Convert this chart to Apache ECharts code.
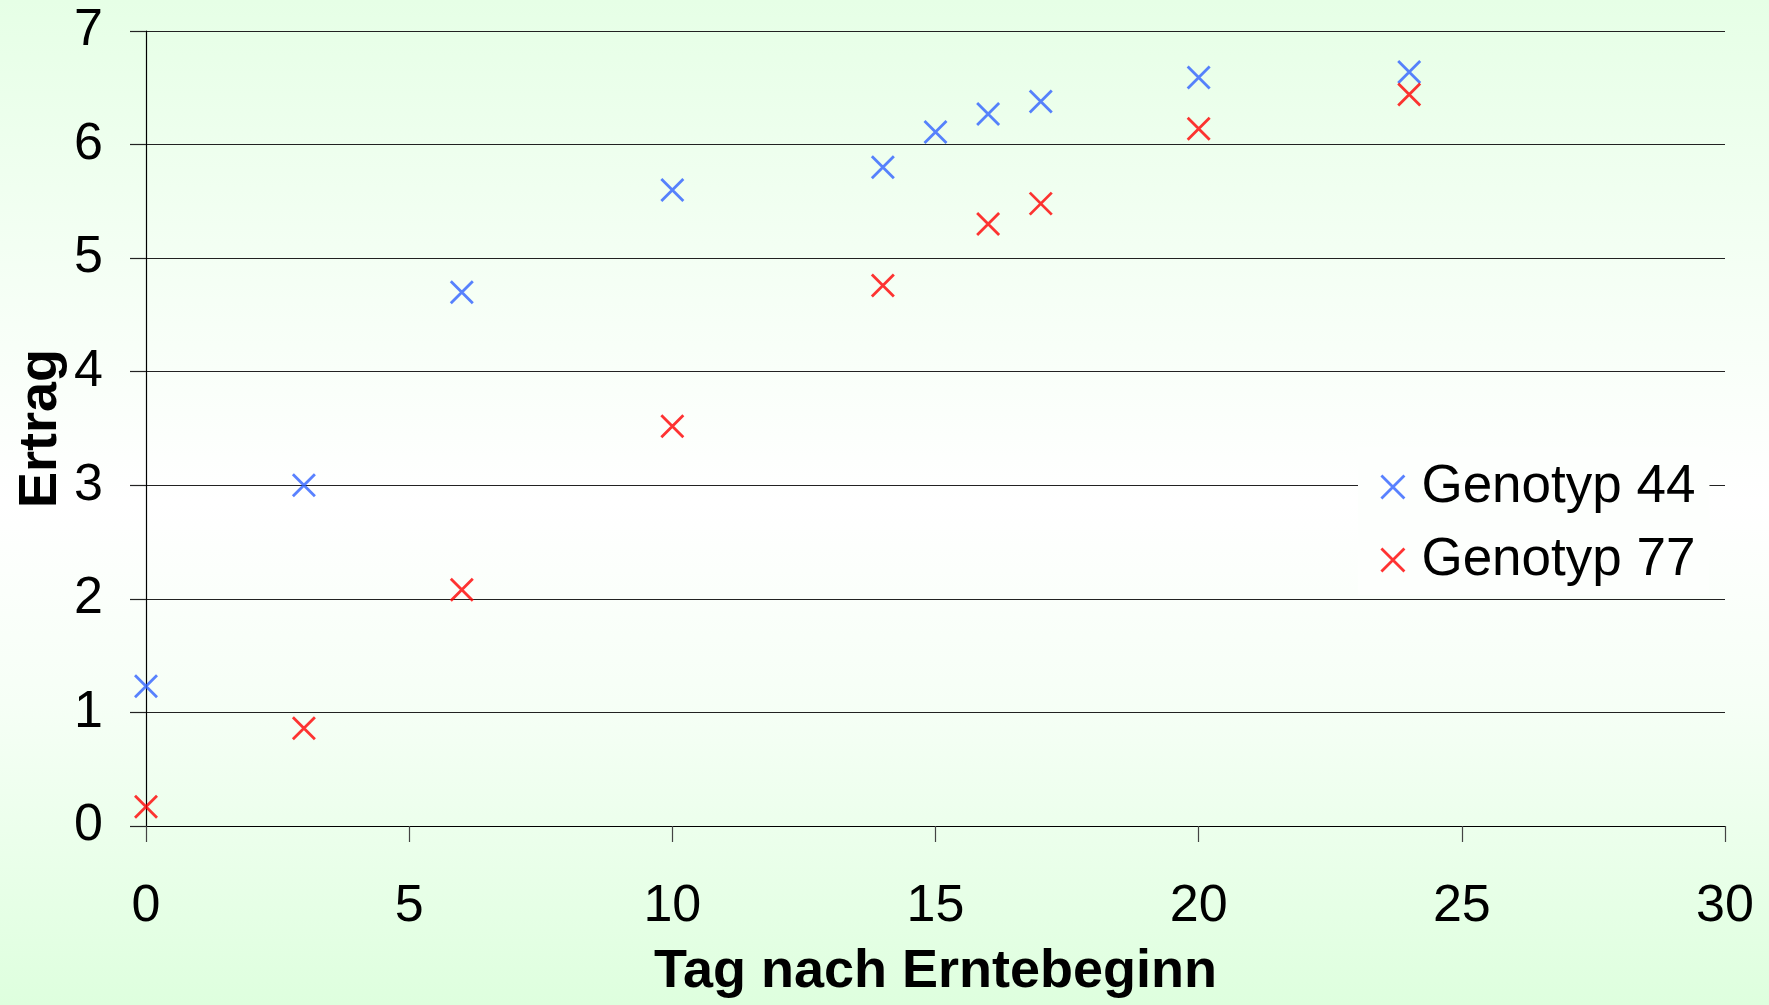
<!DOCTYPE html>
<html>
<head>
<meta charset="utf-8">
<script src="https://cdn.jsdelivr.net/npm/echarts@6/dist/echarts.min.js"></script>
<style>
  html, body { margin: 0; padding: 0; }
  body {
    width: 1769px; height: 1005px; overflow: hidden;
    background: linear-gradient(to bottom, #E6FFE6 0%, #F6FFF6 30%, #FFFFFF 50%, #F6FFF6 70%, #DEFFDE 100%);
  }
  #chart { width: 1769px; height: 1005px; }
</style>
</head>
<body>
<div id="chart"></div>
<script>
// Ertrag je Erntetag für zwei Genotypen
const days44 = [0, 3, 6, 10, 14, 15, 16, 17, 20, 24];
const yield44 = [1.23, 3.00, 4.70, 5.60, 5.80, 6.11, 6.27, 6.38, 6.59, 6.64];
const days77 = [0, 3, 6, 10, 14, 16, 17, 20, 24];
const yield77 = [0.17, 0.86, 2.08, 3.52, 4.76, 5.30, 5.48, 6.14, 6.44];

const seriesNames = ['Genotyp 44', 'Genotyp 77'];
const seriesColors = ['#2F62FF', '#FF0000'];
const xTitle = 'Tag nach Erntebeginn';
const yTitle = 'Ertrag';

const crossPath = 'path://M0,0L20,20M20,0L0,20';
const font = '"Liberation Sans", Arial, sans-serif';

function zip(xs, ys) { return xs.map((x, i) => [x, ys[i]]); }

function crossStyle(color) {
  return { color: 'rgba(0,0,0,0)', borderColor: color, borderWidth: 2.8 };
}

const chart = echarts.init(document.getElementById('chart'), null, { renderer: 'canvas' });

chart.setOption({
  backgroundColor: 'transparent',
  animation: false,
  grid: { left: 146, right: 44, top: 31, bottom: 179, containLabel: false, outerBoundsMode: 'none' },
  xAxis: {
    type: 'value', min: 0, max: 30, interval: 5,
    name: xTitle, nameLocation: 'middle', nameGap: 119, nameMoveOverlap: false,
    nameTextStyle: { fontFamily: font, fontSize: 54, fontWeight: 'bold', color: '#000' },
    axisLine: { show: true, onZero: false, lineStyle: { color: '#000', width: 1.2 } },
    axisTick: { show: true, length: 16, lineStyle: { color: '#444', width: 1.2 } },
    axisLabel: { fontFamily: font, fontSize: 52, color: '#000', margin: 55, showMinLabel: true, showMaxLabel: true },
    splitLine: { show: false }
  },
  yAxis: {
    type: 'value', min: 0, max: 7, interval: 1,
    name: yTitle, nameLocation: 'middle', nameGap: 78, nameRotate: 90, nameMoveOverlap: false,
    nameTextStyle: { fontFamily: font, fontSize: 54, fontWeight: 'bold', color: '#000' },
    axisLine: { show: true, lineStyle: { color: '#000', width: 1.2 } },
    axisTick: { show: true, length: 16, lineStyle: { color: '#222', width: 1.2 } },
    axisLabel: { fontFamily: font, fontSize: 52, color: '#000', margin: 43, showMinLabel: true, showMaxLabel: true },
    splitLine: { show: true, lineStyle: { color: '#222', width: 1.2 } }
  },
  legend: {
    orient: 'vertical',
    left: 1358, top: 447,
    padding: [10, 14, 5, 22],
    backgroundColor: '#FDFFFD',
    itemWidth: 23, itemHeight: 23, itemGap: 13,
    textStyle: { fontFamily: font, fontSize: 53, color: '#000', lineHeight: 60, padding: [0, 0, 0, 12] },
    data: seriesNames.map((n, i) => ({ name: n, icon: crossPath, itemStyle: crossStyle(seriesColors[i]) }))
  },
  series: [
    {
      name: seriesNames[0], type: 'scatter',
      symbol: crossPath, symbolSize: 22,
      itemStyle: crossStyle(seriesColors[0]),
      data: zip(days44, yield44)
    },
    {
      name: seriesNames[1], type: 'scatter',
      symbol: crossPath, symbolSize: 22,
      itemStyle: crossStyle(seriesColors[1]),
      data: zip(days77, yield77)
    }
  ]
});
</script>
</body>
</html>
